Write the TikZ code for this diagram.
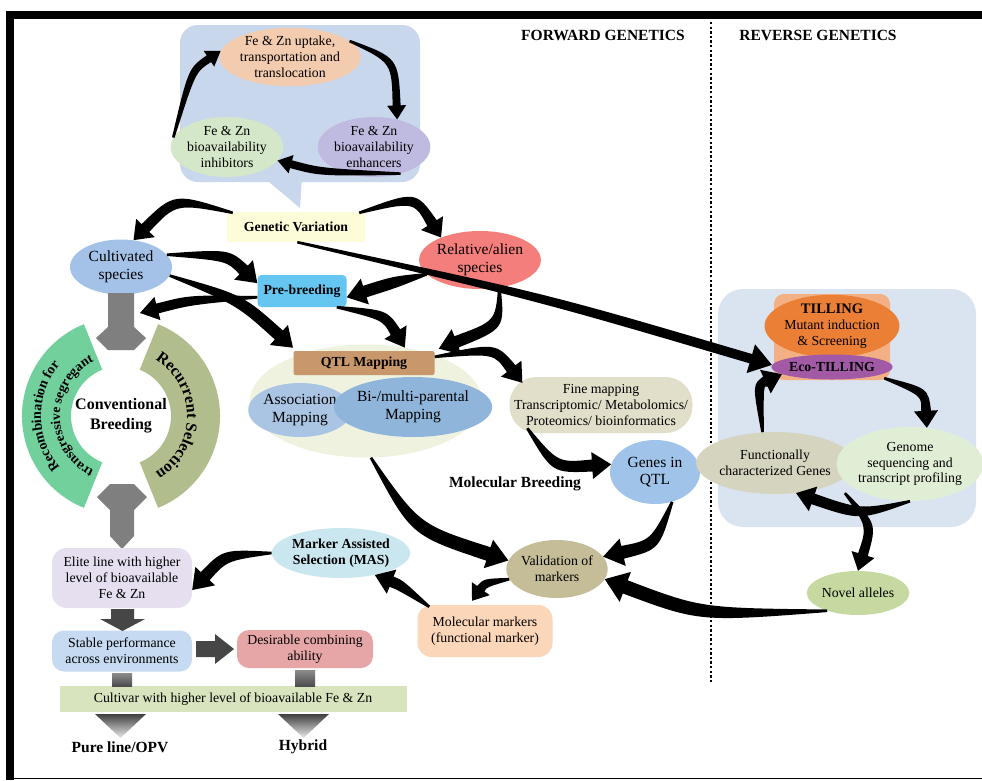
\documentclass[tikz,border=0pt]{standalone}
\usepackage{fontspec}
\setmainfont{Liberation Serif}
\usetikzlibrary{shapes.geometric,calc,decorations.text}
\definecolor{bubc}{HTML}{C8D7EB}
\definecolor{upc}{HTML}{F3CCAF}
\definecolor{inhc}{HTML}{D5E7C9}
\definecolor{enhc}{HTML}{BFBADF}
\definecolor{gvc}{HTML}{FDFCD8}
\definecolor{cultc}{HTML}{A4C2E7}
\definecolor{relc}{HTML}{F47E7B}
\definecolor{prec}{HTML}{64C6F1}
\definecolor{qbgc}{HTML}{EEF2DE}
\definecolor{qtlc}{HTML}{C8976C}
\definecolor{assc}{HTML}{A9C5E3}
\definecolor{bimc}{HTML}{90B5DA}
\definecolor{finec}{HTML}{E1DEC9}
\definecolor{genc}{HTML}{A0C3E9}
\definecolor{valc}{HTML}{C4BD98}
\definecolor{mmc}{HTML}{FBD6B9}
\definecolor{masc}{HTML}{CAE7F0}
\definecolor{elic}{HTML}{E5DFEF}
\definecolor{stac}{HTML}{C6DAF1}
\definecolor{desc}{HTML}{E6A6A7}
\definecolor{barc}{HTML}{D8E4BE}
\definecolor{grnc}{HTML}{72D09D}
\definecolor{olvc}{HTML}{B2BD8D}
\definecolor{gryc}{HTML}{7F7F7F}
\definecolor{dgryc}{HTML}{464646}
\definecolor{boxc}{HTML}{DAE4F1}
\definecolor{tilc}{HTML}{F2B084}
\definecolor{oranc}{HTML}{EC7F36}
\definecolor{purc}{HTML}{A25AA6}
\definecolor{funcc}{HTML}{D5D4BF}
\definecolor{gnmc}{HTML}{E1EED6}
\definecolor{novc}{HTML}{C5D9A0}
\newcommand\myfA{\fontsize{13.8}{15.8}\selectfont}
\newcommand\myfB{\fontsize{15.5}{17.5}\selectfont}
\newcommand\myfC{\fontsize{16}{20}\selectfont\bfseries}
% tapered curved arrow: start, control, tip, shaft half width, head half width, head length
\newcommand\tarr[6]{%
 \path (#1) coordinate (ta) (#2) coordinate (tc) (#3) coordinate (tt);
 \path ($(tt)!#6!(tc)$) coordinate (tb);
 \path ($(ta)!#4!90:(tb)$) coordinate (tn);
 \fill[black] ($(ta)!1.3pt!90:(tc)$) .. controls ($(tc)+(tn)-(ta)$) .. ($(tb)!#4!-90:(tc)$)
   -- ($(tb)!#5!-90:(tc)$) -- (tt) -- ($(tb)!#5!90:(tc)$) -- ($(tb)!#4!90:(tc)$)
   .. controls ($(tc)-(tn)+(ta)$) .. ($(ta)!1.3pt!-90:(tc)$) -- cycle;
}
\tikzset{
 el/.style={ellipse, inner sep=0pt, align=center, font=\myfA},
 rb/.style={rectangle, inner sep=0pt, align=center, font=\myfA},
 hdr/.style={font=\myfB\bfseries},
}
\begin{document}
\begin{tikzpicture}[x=1pt,y=-1pt]
\useasboundingbox (0,0) rectangle (982,780);
\fill[white] (0,0) rectangle (982,780);
% frame
\fill[black] (6,11) rectangle (982,19);
\fill[black] (6,11) rectangle (14,780);
\draw[line width=1.6pt] (14,778.5) -- (982,778.5);
% headers and divider
\node[hdr] (fwd) at (603,35) {FORWARD GENETICS};
\node[hdr] (rev) at (818,35) {REVERSE GENETICS};
\draw[line width=2.4pt, dash pattern=on 2.4pt off 2.2pt] (711,22) -- (711,683);

% callout bubble
\fill[bubc] (262,176) -- (300,208) -- (302,176) -- cycle;
\node[fill=bubc, rounded corners=18pt, minimum width=240pt, minimum height=157pt, inner sep=0pt] (bub) at (300,103.5) {};
\node[el, fill=upc, minimum width=118pt, minimum height=56pt] (up) at (290,57) {Fe \& Zn uptake,\\transportation and\\translocation};
\node[el, fill=inhc, minimum width=88pt, minimum height=60pt] (inh) at (227,147) {Fe \& Zn\\bioavailability\\inhibitors};
\node[el, fill=enhc, minimum width=88pt, minimum height=60pt] (enh) at (374,147) {Fe \& Zn\\bioavailability\\enhancers};

% top row
\node[rb, fill=gvc, minimum width=138pt, minimum height=30pt, font=\myfA\bfseries] (gv) at (296,227) {Genetic Variation};
\node[el, fill=cultc, minimum width=102pt, minimum height=55pt, font=\myfB] (cult) at (121,267) {Cultivated\\species};
\node[el, fill=relc, minimum width=105pt, minimum height=58pt, font=\myfB] (rel) at (480,260) {Relative/alien\\species};
\node[rb, fill=prec, rounded corners=4pt, minimum width=89pt, minimum height=32pt, font=\myfA\bfseries] (pre) at (302,291) {Pre-breeding};

% QTL group
\node[el, fill=qbgc, minimum width=232pt, minimum height=113pt] (qtlbg) at (366,401) {};
\node[rb, fill=qtlc, rounded corners=2pt, minimum width=141pt, minimum height=24pt, font=\myfA\bfseries] (qtl) at (364,363) {QTL Mapping};
\node[el, fill=assc, minimum width=88pt, minimum height=54pt, font=\myfB] (assoc) at (300,410) {Association\\Mapping};
\node[el, fill=bimc, minimum width=130pt, minimum height=60pt, font=\myfB] (bim) at (413,407) {Bi-/multi-parental\\Mapping};

\node[rb, fill=finec, rounded corners=27pt, minimum width=183pt, minimum height=56pt] (fine) at (601,405) {Fine mapping\\Transcriptomic/ Metabolomics/\\Proteomics/ bioinformatics};
\node[el, fill=genc, minimum width=90pt, minimum height=64pt, font=\myfB] (genes) at (655,472) {Genes in\\QTL};
\node[font=\myfB\bfseries] (molbr) at (515,484) {Molecular Breeding};
\node[el, fill=valc, minimum width=98pt, minimum height=58pt] (valid) at (557,569) {Validation of\\markers};
\node[rb, fill=mmc, rounded corners=14pt, minimum width=135pt, minimum height=52pt] (molmk) at (485,631) {Molecular markers\\(functional marker)};
\node[el, fill=masc, minimum width=131pt, minimum height=50pt, font=\myfA\bfseries] (mas) at (341,553) {Marker Assisted\\Selection (MAS)};

% conventional breeding ring
\coordinate (cc) at (121,416);
\fill[grnc] ($(cc)+(112:99)$) arc[start angle=112, end angle=248, radius=99] -- ($(cc)+(248:50)$) arc[start angle=248, end angle=112, radius=50] -- cycle;
\fill[olvc] ($(cc)+(-68:99)$) arc[start angle=-68, end angle=68, radius=99] -- ($(cc)+(68:50)$) arc[start angle=68, end angle=-68, radius=50] -- cycle;
\path[decorate, decoration={text along path, text align=center, text={|\fontsize{14}{14}\selectfont\bfseries|Recombination for}}] ($(cc)+(114:80)$) arc[start angle=114, end angle=246, radius=80];
\path[decorate, decoration={text along path, text align=center, text={|\fontsize{13.6}{14}\selectfont\bfseries|transgressive segregant}}] ($(cc)+(110:61)$) arc[start angle=110, end angle=250, radius=61];
\path[decorate, decoration={text along path, text align=center, text={|\fontsize{16}{16}\selectfont\bfseries|Recurrent Selection}}] ($(cc)+(-66:66)$) arc[start angle=-66, end angle=66, radius=66];
\node[align=center, font=\myfC] (conv) at (121,416) {Conventional\\Breeding};
\fill[gryc] (108,293) -- (134,293) -- (134,327) -- (146,338) -- (134,350) -- (108,350) -- (96,338) -- (108,327) -- cycle;
\coordinate (convtip) at (140,313);
\fill[gryc] (110,484) -- (134,484) -- (147,497) -- (134,510) -- (134,536) -- (122,549) -- (110,536) -- (110,510) -- (97,497) -- cycle;

% lower left chain
\node[rb, fill=elic, rounded corners=15pt, minimum width=140pt, minimum height=60pt] (elite) at (122,578) {Elite line with higher\\level of bioavailable\\Fe \& Zn};
\node[rb, fill=stac, rounded corners=12pt, minimum width=140pt, minimum height=41pt] (stable) at (122,651) {Stable performance\\across environments};
\node[rb, fill=desc, rounded corners=12pt, minimum width=136pt, minimum height=38pt] (desir) at (305,649) {Desirable combining\\ability};
\node[rb, fill=barc, minimum width=347pt, minimum height=26pt] (bar) at (233,699) {Cultivar with higher level of bioavailable Fe \& Zn};
\node[font=\myfB\bfseries] (pure) at (120,747) {Pure line/OPV};
\node[font=\myfB\bfseries] (hyb) at (303,747) {Hybrid};
\fill[dgryc] (111,609) -- (134,609) -- (134,619) -- (145,619) -- (122.5,631) -- (100,619) -- (111,619) -- cycle;
\fill[dgryc] (196,641) -- (215,641) -- (215,634) -- (234,649) -- (215,664) -- (215,657) -- (196,657) -- cycle;
\shade[top color=black!45, bottom color=black!70] (112,673) rectangle (132,686);
\shade[top color=black!45, bottom color=black!70] (295,670) rectangle (315,686);
\shade[top color=black!75, bottom color=black!8] (95,714) -- (146,714) -- (120.5,738) -- cycle;
\shade[top color=black!75, bottom color=black!8] (278,714) -- (329,714) -- (303.5,738) -- cycle;

% reverse genetics box
\node[fill=boxc, rounded corners=25pt, minimum width=258pt, minimum height=238pt, inner sep=0pt] (rbox) at (847,408) {};
\node[fill=tilc, rounded corners=10pt, minimum width=116pt, minimum height=86pt, inner sep=0pt] (till) at (832,337) {};
\node[el, fill=oranc, minimum width=106pt, minimum height=54pt] (tilo) at (832,326) {{\bfseries\fontsize{14.5}{16}\selectfont TILLING}\\Mutant induction\\\& Screening};
\node[el, fill=purc, minimum width=116pt, minimum height=25pt, font=\myfA\bfseries] (eco) at (832,367) {Eco-TILLING};
\node[el, fill=funcc, minimum width=112pt, minimum height=62pt] (func) at (775,463) {Functionally\\characterized Genes};
\node[el, fill=gnmc, minimum width=116pt, minimum height=74pt] (genome) at (910,464) {Genome\\sequencing and\\transcript profiling};
\node[el, fill=novc, minimum width=88pt, minimum height=44pt] (novel) at (858,593) {Novel alleles};

% ---- arrows ----
% bubble cycle
\tarr{inh.170}{192,70}{up.175}{4pt}{9.5pt}{14pt}
\tarr{up.15}{395,60}{enh.50}{4pt}{9.5pt}{14pt}
\tarr{enh.-45}{320,172}{inh.-15}{4pt}{9.5pt}{14pt}
% genetic variation
\tarr{$(gv.north west)+(6,1)$}{175,198}{cult.65}{5.5pt}{13pt}{17pt}
\tarr{$(gv.north east)+(-6,1)$}{415,196}{rel.150}{5.5pt}{13pt}{17pt}
\tarr{cult.15}{228,255}{pre.170}{6pt}{13.5pt}{19pt}
\tarr{cult.-10}{240,300}{$(qtlbg.150)+(2,-10)$}{6pt}{13.5pt}{19pt}
\tarr{rel.195}{395,282}{pre.-8}{6pt}{13.5pt}{19pt}
\tarr{rel.-55}{500,325}{$(qtlbg.33)+(3,-7)$}{6pt}{13.5pt}{19pt}
\tarr{pre.188}{190,300}{convtip}{5pt}{12pt}{18pt}
\tarr{pre.-25}{385,315}{qtlbg.54}{5.5pt}{13pt}{18pt}
\tarr{gv.-85}{545,298}{eco.178}{4.8pt}{15pt}{22pt}
% molecular breeding
\tarr{qtl.5}{495,348}{$(fine.north west)+(13,6)$}{5.5pt}{13pt}{18pt}
\tarr{$(fine.south west)+(18,-5)$}{555,468}{genes.170}{6pt}{13.5pt}{19pt}
\tarr{qtlbg.-85}{415,530}{valid.170}{7pt}{15pt}{21pt}
\tarr{genes.-60}{655,545}{valid.15}{6.5pt}{14pt}{20pt}
\tarr{valid.192}{485,583}{$(molmk.north)+(-13,-4)$}{4.5pt}{11pt}{15pt}
\tarr{$(molmk.north west)+(12,2)$}{400,585}{mas.-33}{5.5pt}{13pt}{18pt}
\tarr{mas.west}{225,555}{$(elite.east)+(0,12)$}{6pt}{13.5pt}{19pt}
\tarr{novel.-150}{700,615}{valid.-12}{7pt}{16pt}{22pt}
% reverse genetics cycle
\tarr{$(till.south east)+(-6,-2)$}{925,392}{genome.65}{5pt}{12pt}{17pt}
\tarr{genome.-90}{860,515}{func.-55}{5.5pt}{13pt}{18pt}
\tarr{func.112}{758,385}{$(till.south west)+(8,-6)$}{5.5pt}{13pt}{18pt}
\tarr{$(func.south east)+(14,8)$}{872,525}{novel.north}{5pt}{12pt}{17pt}
\end{tikzpicture}
\end{document}
